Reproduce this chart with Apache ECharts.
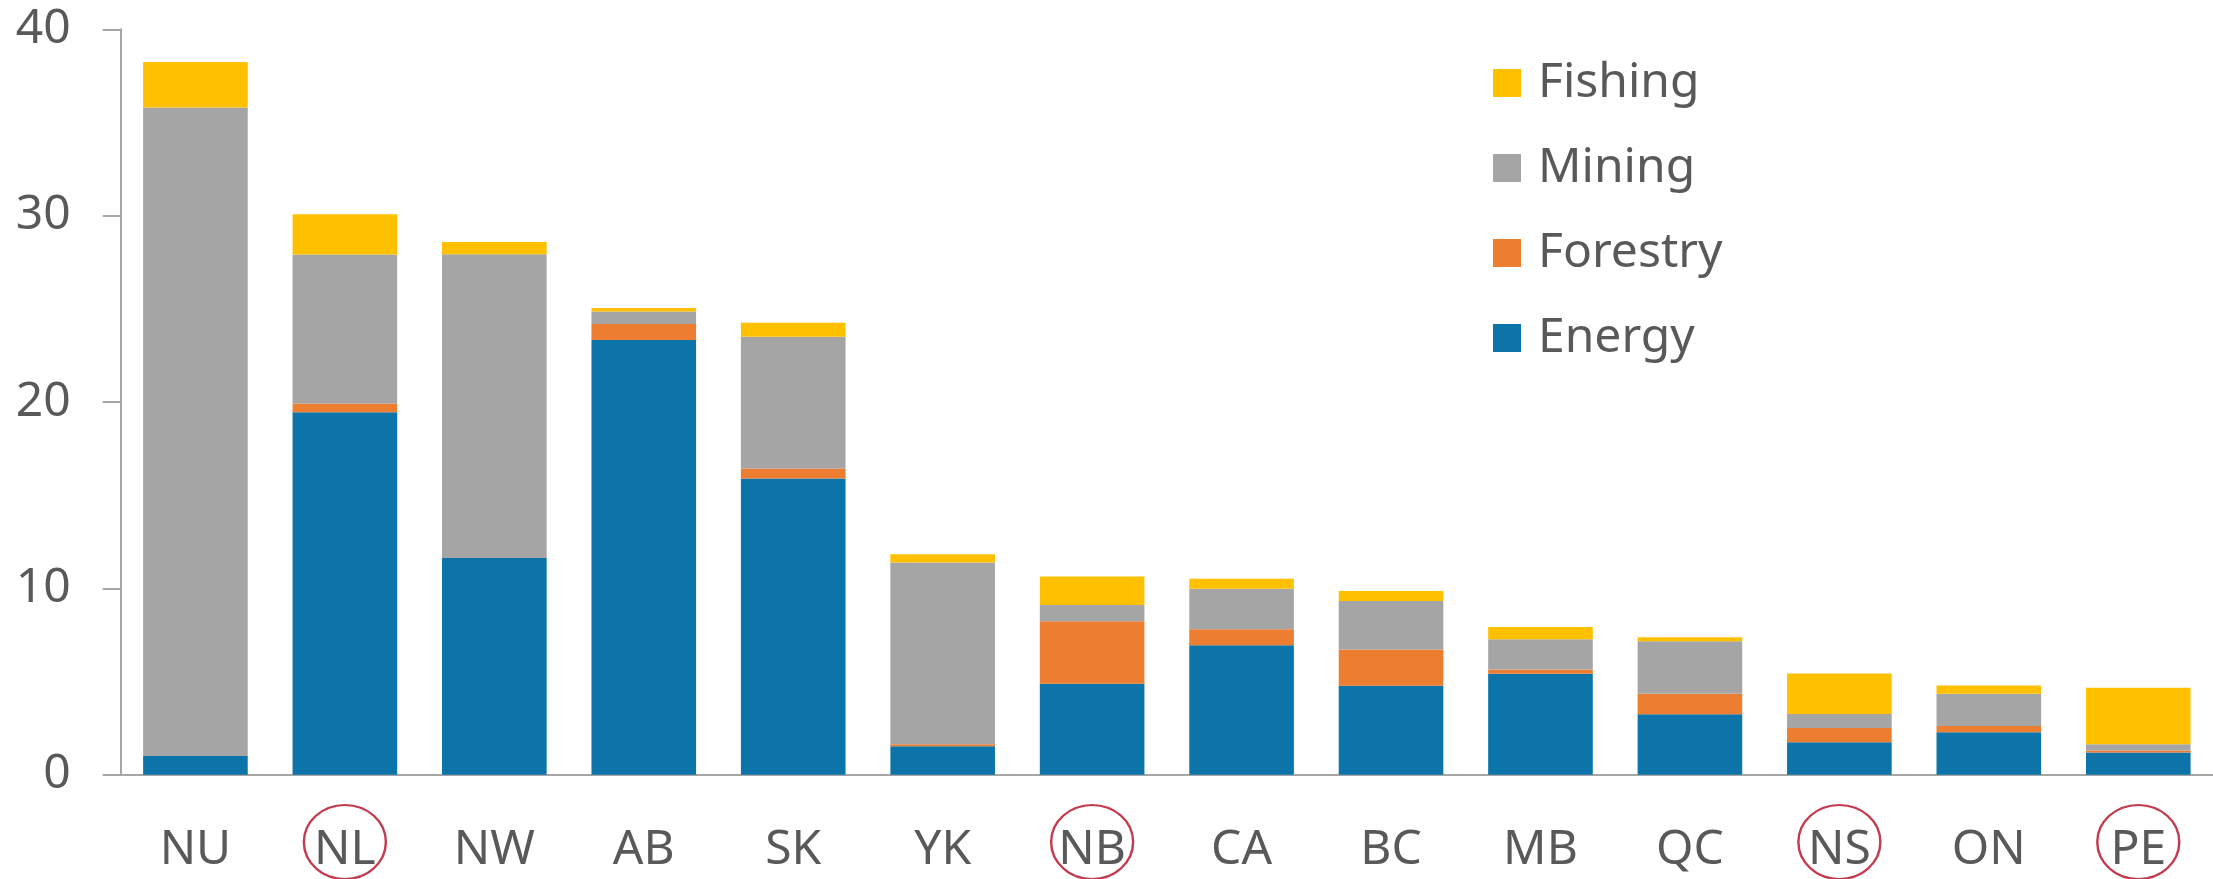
<!DOCTYPE html>
<html>
<head>
<meta charset="utf-8">
<script src="https://cdn.jsdelivr.net/npm/echarts@6/dist/echarts.min.js"></script>
<style>
html,body{margin:0;padding:0;background:#fff;}
#chart{width:2213px;height:879px;}
</style>
</head>
<body>
<div id="chart"></div>
<script>
const categories = ['NU','NL','NW','AB','SK','YK','NB','CA','BC','MB','QC','NS','ON','PE'];
const energy   = [1.0, 19.45, 11.63, 23.33, 15.9, 1.52, 4.88, 6.94, 4.77, 5.42, 3.25, 1.74, 2.28, 1.19];
const forestry = [0, 0.47, 0, 0.86, 0.53, 0.11, 3.36, 0.87, 1.95, 0.22, 1.09, 0.76, 0.33, 0.11];
const mining   = [34.8, 8.0, 16.3, 0.67, 7.07, 9.76, 0.87, 2.17, 2.6, 1.63, 2.82, 0.76, 1.74, 0.33];
const fishing  = [2.45, 2.16, 0.65, 0.18, 0.75, 0.44, 1.52, 0.54, 0.54, 0.65, 0.22, 2.17, 0.43, 3.04];
const circled  = ['NL','NB','NS','PE'];
const legendOrder = ['Fishing','Mining','Forestry','Energy'];

const FONT = 'Noto Sans';
const TXT = '#595959';
const AX = '#A6A6A6';

const chart = echarts.init(document.getElementById('chart'), null, {renderer:'canvas'});

function bar(name, data, color){
  return {name, type:'bar', stack:'total', data, barCategoryGap:'30%',
          itemStyle:{color}, emphasis:{disabled:true}};
}

chart.setOption({
  animation:false,
  backgroundColor:'#fff',
  textStyle:{fontFamily:FONT},
  grid:{left:120.7, right:-6, top:29.3, bottom:104.3, containLabel:false},
  legend:{
    orient:'vertical', left:1493, top:59, padding:0,
    data:legendOrder, itemWidth:28, itemHeight:28, itemGap:37,
    icon:'rect',
    textStyle:{fontFamily:FONT, fontSize:48, color:TXT, lineHeight:48, padding:[0,0,0,12]}
  },
  xAxis:{
    type:'category', data:categories,
    axisLine:{lineStyle:{color:AX, width:2}},
    axisTick:{show:false},
    axisLabel:{fontFamily:FONT, fontSize:48, color:TXT, margin:52}
  },
  yAxis:{
    type:'value', min:0, max:40, interval:10,
    splitLine:{show:false},
    axisLine:{show:true, lineStyle:{color:AX, width:2}},
    axisTick:{show:true, inside:false, length:18, lineStyle:{color:AX, width:2}},
    axisLabel:{fontFamily:FONT, fontSize:48, color:TXT, margin:50}
  },
  series:[
    bar('Energy', energy, '#0C74A8'),
    bar('Forestry', forestry, '#ED7D31'),
    bar('Mining', mining, '#A5A5A5'),
    bar('Fishing', fishing, '#FFC000')
  ]
});

const elements = circled.map(c => {
  const p = chart.convertToPixel({xAxisIndex:0, yAxisIndex:0}, [c, 0]);
  return {
    type:'circle', x:p[0], y:842, scaleX:41/37, scaleY:1,
    shape:{cx:0, cy:0, r:37},
    style:{fill:'none', stroke:'#C33B4E', lineWidth:2.2},
    silent:true
  };
});
chart.setOption({graphic:{elements}});
</script>
</body>
</html>
